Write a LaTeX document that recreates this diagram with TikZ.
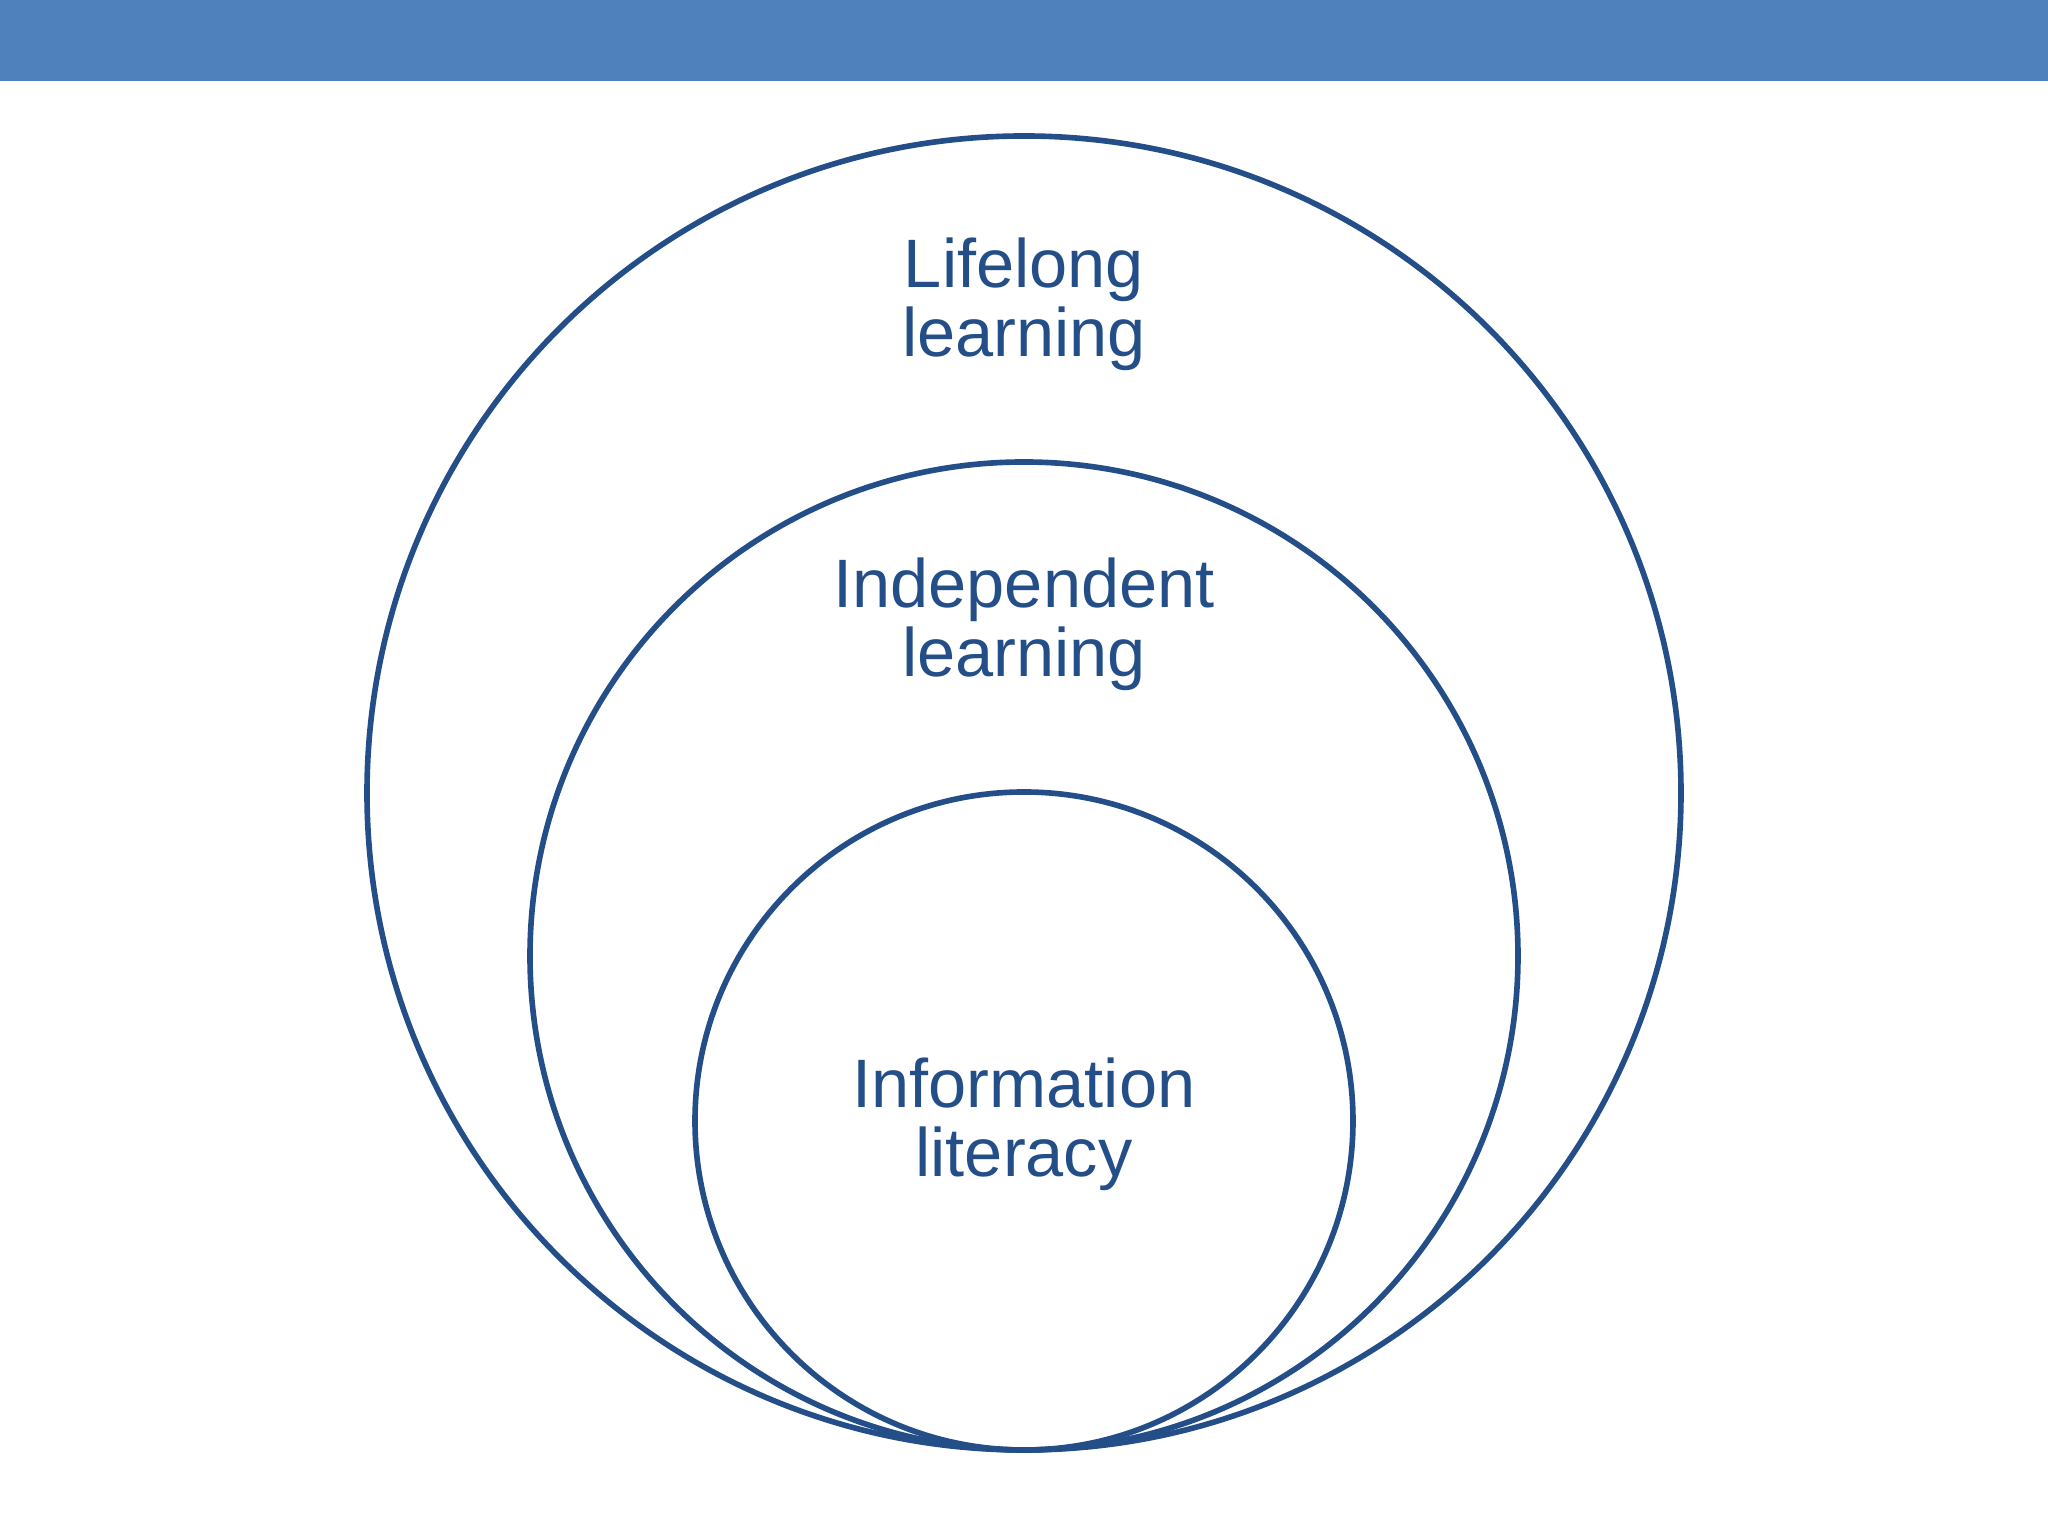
\documentclass[tikz,border=0pt]{standalone}
\usepackage{fontspec}
\setmainfont{Liberation Sans}
\usepackage{xcolor}
\usepackage{tikz}
\definecolor{barblue}{HTML}{4F81BD}
\definecolor{ringblue}{HTML}{234E88}

\begin{document}
\begin{tikzpicture}[
        ring/.style={circle,draw=ringblue,line width=1.6pt,inner sep=0pt},
        lbl/.style={align=center,text=ringblue,
                    font=\fontsize{19.5}{19.7}\selectfont}]
      \useasboundingbox (0,0) rectangle (20.48,15.36);
      \fill[barblue] (0,14.55) rectangle (20.48,15.36);
      \node[ring,minimum size=13.14cm] (ll) at(10.24,7.43){};
      \node[ring,minimum size=9.88cm]  (il) at(10.24,5.80){};
      \node[ring,minimum size=6.58cm]  (in) at(10.24,4.15){};
      \node[lbl] (lltext) at(10.24,12.32){Lifelong\\learning};
      \node[lbl] (iltext) at(10.24,9.12){Independent\\learning};
      \node[lbl] (intext) at(10.24,4.12){Information\\literacy};
    \end{tikzpicture}
\end{document}
